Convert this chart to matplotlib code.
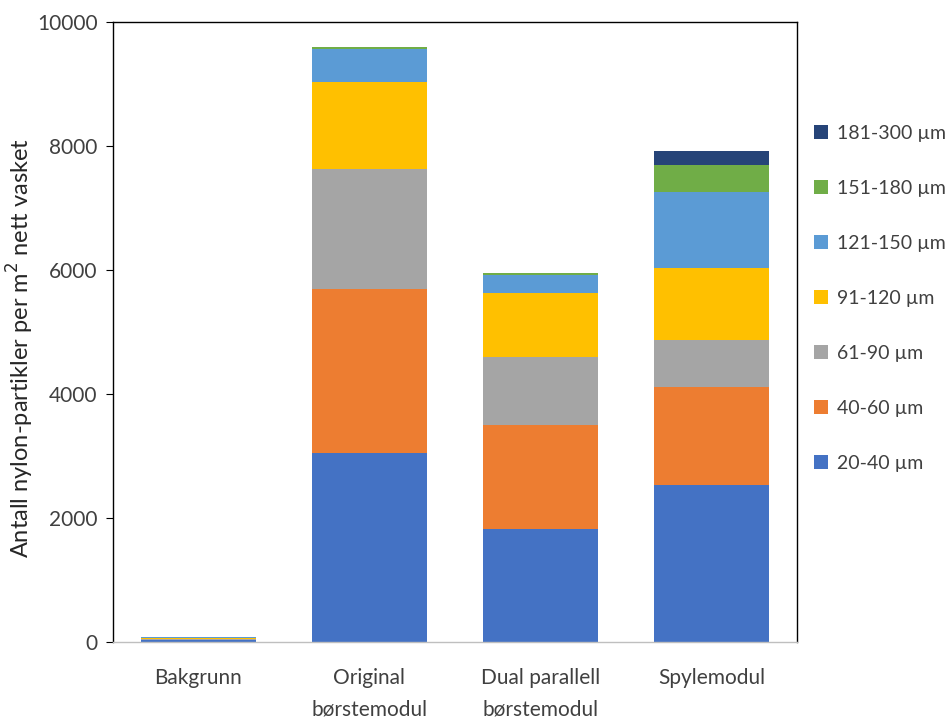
import matplotlib
matplotlib.use("Agg")
import matplotlib.pyplot as plt
import numpy as np

categories = ["Bakgrunn", "Original\nbørstemodul", "Dual parallell\nbørstemodul", "Spylemodul"]
series_names = ["20-40 µm", "40-60 µm", "61-90 µm", "91-120 µm", "121-150 µm", "151-180 µm", "181-300 µm"]
s20_40 = [25, 3050, 1825, 2530]
s40_60 = [10, 2645, 1675, 1580]
s61_90 = [15, 1935, 1095, 760]
s91_120 = [20, 1405, 1030, 1160]
s121_150 = [10, 535, 290, 1225]
s151_180 = [5, 30, 33, 435]
s181_300 = [0, 0, 0, 225]
colors = ["#4472C4", "#ED7D31", "#A5A5A5", "#FFC000", "#5B9BD5", "#70AD47", "#264478"]

data = [s20_40, s40_60, s61_90, s91_120, s121_150, s151_180, s181_300]

plt.rcParams['font.family'] = ['Lato', 'DejaVu Sans']
fig = plt.figure(figsize=(9.52, 7.22), dpi=100)
ax = fig.add_axes([0.1187, 0.1108, 0.7183, 0.8587])

x = np.arange(len(categories))
bottom = np.zeros(len(categories))
handles = []
for name, vals, c in zip(series_names, data, colors):
    b = ax.bar(x, vals, bottom=bottom, width=0.67, color=c, label=name)
    handles.append(b)
    bottom += np.array(vals)

ax.set_ylim(0, 10000)
ax.set_xlim(-0.5, 3.5)
ax.set_yticks(range(0, 10001, 2000))
ax.set_xticks(x)
ax.set_xticklabels(categories, fontsize=15, color="#404040", linespacing=1.7, va='top')
ax.tick_params(axis='y', labelsize=15, labelcolor="#404040", direction='out', length=5, color='black', pad=6)
ax.tick_params(axis='x', length=0, pad=19)
for s in ax.spines.values():
    s.set_color('black')
    s.set_linewidth(1.0)
ax.spines['bottom'].set_color('#BFBFBF')
ax.set_ylabel("Antall nylon-partikler per m$^2$ nett vasket", fontsize=17, color="#262626")
ax.yaxis.set_label_coords(-0.113, 0.474)

leg = ax.legend(handles[::-1], series_names[::-1], loc='upper left', bbox_to_anchor=(1.0, 0.862),
                frameon=False, fontsize=14, labelspacing=1.95, handlelength=0.7, handleheight=0.7,
                handletextpad=0.45)
for t in leg.get_texts():
    t.set_color("#404040")

fig.savefig("out.png", dpi=100)
